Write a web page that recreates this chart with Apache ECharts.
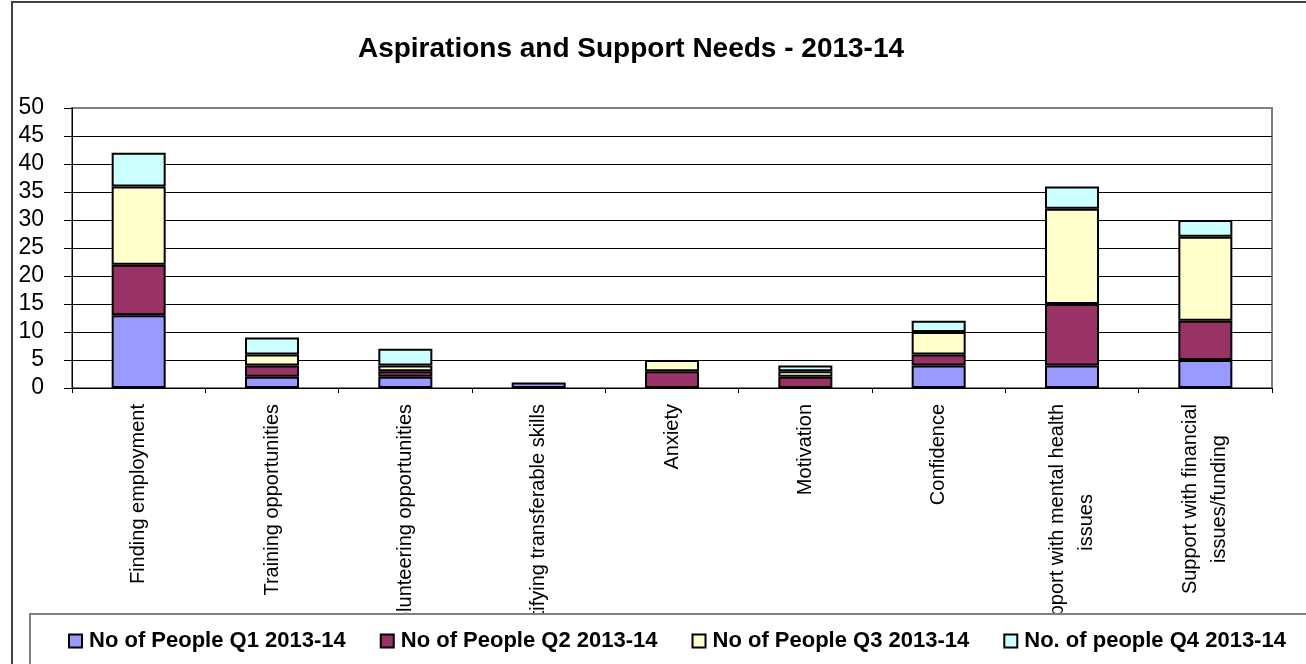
<!DOCTYPE html>
<html>
<head>
<meta charset="utf-8">
<script src="https://cdn.jsdelivr.net/npm/echarts@6/dist/echarts.min.js"></script>
<style>
html,body{margin:0;padding:0;background:#fff;}
#chart{width:1306px;height:664px;}
</style>
</head>
<body>
<div id="chart"></div>
<script>
var categories = [
  "Finding employment",
  "Training opportunities",
  "Volunteering opportunities",
  "Identifying transferable skills",
  "Anxiety",
  "Motivation",
  "Confidence",
  "Support with mental health\nissues",
  "Support with financial\nissues/funding"
];
var seriesNames = [
  "No of People Q1 2013-14",
  "No of People Q2 2013-14",
  "No of People Q3 2013-14",
  "No. of people Q4 2013-14"
];
var q1 = [13, 2, 2, 1, 0, 0, 4, 4, 5];
var q2 = [9, 2, 1, 0, 3, 2, 2, 11, 7];
var q3 = [14, 2, 1, 0, 2, 1, 4, 17, 15];
var q4 = [6, 3, 3, 0, 0, 1, 2, 4, 3];
var colors = ["#9999FF", "#993366", "#FFFFCC", "#CCFFFF"];
var yMin = 0, yMax = 50, yStep = 5;

var FONT = '"Liberation Sans", Arial, sans-serif';
var chart = echarts.init(document.getElementById('chart'), null, {renderer: 'canvas'});
var values = [q1, q2, q3, q4];
var series = values.map(function (v, i) {
  return {
    name: seriesNames[i],
    type: 'bar',
    stack: 'total',
    data: v.map(function (x) { return x === 0 ? '-' : x; }),
    barWidth: 54,
    itemStyle: {color: colors[i], borderColor: '#000', borderWidth: 2},
    emphasis: {disabled: true}
  };
});

chart.setOption({
  animation: false,
  backgroundColor: '#fff',
  title: {
    text: 'Aspirations and Support Needs - 2013-14',
    left: 626, top: 30, textAlign: 'center',
    textStyle: {fontFamily: FONT, fontSize: 28, fontWeight: 'bold', color: '#000'}
  },
  grid: {left: 72, right: 34, top: 108, bottom: 276, show: true, borderColor: '#808080', borderWidth: 2, backgroundColor: 'transparent'},
  legend: {
    left: 68, top: 630, padding: 0, z: 60,
    icon: 'rect', itemWidth: 13, itemHeight: 13, itemGap: 34,
    itemStyle: {borderColor: '#000', borderWidth: 2},
    textStyle: {fontFamily: FONT, fontSize: 22, fontWeight: 'bold', color: '#000', padding: [0, 0, 0, 2]},
    data: seriesNames
  },
  xAxis: {
    type: 'category',
    data: categories,
    boundaryGap: true,
    axisLine: {lineStyle: {color: '#000', width: 1}},
    axisTick: {show: true, length: 5, lineStyle: {color: '#000'}},
    axisLabel: {
      rotate: 90, margin: 16, interval: 0,
      fontFamily: FONT, fontSize: 20, color: '#000',
      formatter: function (val) {
        return val.split('\n').map(function (s) { return '{c|' + s + '}'; }).join('\n');
      },
      rich: {c: {align: 'center', fontFamily: FONT, fontSize: 20, lineHeight: 29, color: '#000'}}
    },
    splitLine: {show: false}
  },
  yAxis: {
    type: 'value',
    min: yMin, max: yMax, interval: yStep,
    axisLine: {show: true, lineStyle: {color: '#000', width: 1}},
    axisTick: {show: true, length: 8, lineStyle: {color: '#000'}},
    axisLabel: {fontFamily: FONT, fontSize: 23, color: '#000', margin: 28},
    splitLine: {show: true, showMaxLine: false, lineStyle: {color: '#000', width: 1}}
  },
  graphic: [
    {type: 'rect', z: 100, shape: {x: 12, y: 2, width: 1330, height: 700}, style: {fill: 'none', stroke: '#404040', lineWidth: 2}},
    {type: 'rect', z: 50, shape: {x: 30, y: 614, width: 1320, height: 100}, style: {fill: '#fff', stroke: '#808080', lineWidth: 2}}
  ],
  series: series
});
</script>
</body>
</html>
